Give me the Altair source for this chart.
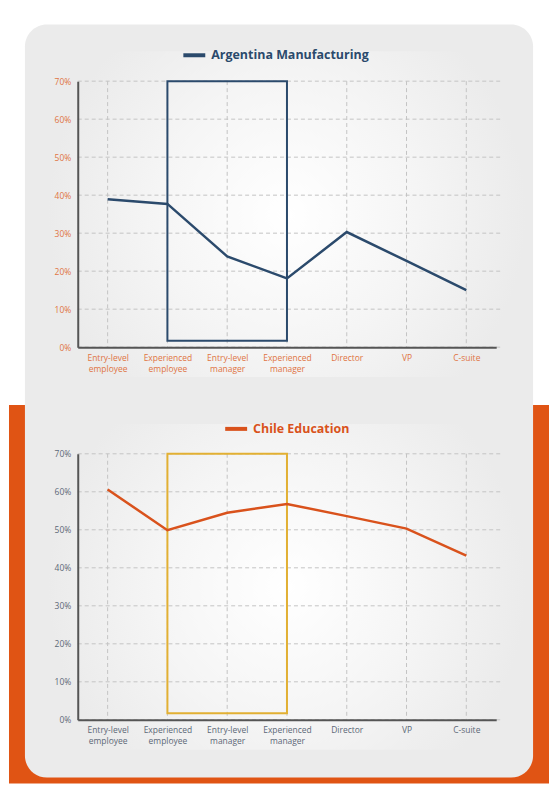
import altair as alt
import pandas as pd

# ---------------- data ----------------
categories = ["Entry-level employee", "Experienced employee", "Entry-level manager",
              "Experienced manager", "Director", "VP", "C-suite"]
argentina = [38.9, 37.7, 23.9, 18.1, 30.3, 22.7, 15.0]
chile = [60.6, 49.9, 54.5, 56.8, 53.6, 50.3, 43.2]
y_ticks = [0, 10, 20, 30, 40, 50, 60, 70]
highlight_start = "Experienced employee"
highlight_end = "Experienced manager"
highlight_low = 1.7
highlight_high = 70

W, H = 420, 267
FONT = "Open Sans"
CARD = "#ebebeb"
ORANGE_BG = "#e05414"
NAVY = "#2b4a6c"
ORANGE = "#d9521c"
GOLD = "#e2b033"
RIGHT = 473   # right edge of canvas in panel coordinates
BOTTOM = 705  # bottom edge of canvas in panel coordinates


def one_row():
    return pd.DataFrame({"k": [0]})


def panel(values, name, line_color, label_color, rect_color, title_x, title_y, backdrop):
    df = pd.DataFrame({"cat": categories, "val": values})
    xscale = alt.Scale(type="point", domain=categories, padding=0.5)
    yscale = alt.Scale(domain=[0, 70], nice=False)
    xaxis = alt.Axis(title=None, labelAngle=0, ticks=False, grid=False,
                     labelColor=label_color, labelFont=FONT, labelFontSize=8.5,
                     labelPadding=6, labelBaseline="top", labelLineHeight=11,
                     labelExpr="split(datum.label, ' ')",
                     domainColor="#555555", domainWidth=2, zindex=1)
    yaxis = alt.Axis(title=None, values=y_ticks, ticks=False, grid=False,
                     labelColor=label_color, labelFont=FONT, labelFontSize=8.5,
                     labelPadding=7, labelExpr="datum.value + '%'",
                     domainColor="#555555", domainWidth=2, zindex=1)

    layers = []
    if backdrop:
        layers.append(
            alt.Chart(one_row()).mark_rect(color="white").encode(
                x=alt.value(-69), x2=alt.value(RIGHT), y=alt.value(-71), y2=alt.value(325))
        )
        layers.append(
            alt.Chart(one_row()).mark_rect(color=ORANGE_BG).encode(
                x=alt.value(-69), x2=alt.value(RIGHT), y=alt.value(325), y2=alt.value(BOTTOM))
        )
        layers.append(
            alt.Chart(one_row()).mark_rect(color=CARD, cornerRadius=22).encode(
                x=alt.value(-53), x2=alt.value(457), y=alt.value(-57), y2=alt.value(699))
        )
    # soft radial glow behind the plot
    layers.append(
        alt.Chart(one_row()).mark_rect(
            fill={"gradient": "radial",
                  "stops": [{"offset": 0, "color": "#ffffff"},
                            {"offset": 0.55, "color": "#f5f5f5"},
                            {"offset": 1, "color": CARD}]}
        ).encode(x=alt.value(-30), x2=alt.value(450), y=alt.value(-30), y2=alt.value(297))
    )
    # horizontal grid
    layers.append(
        alt.Chart(pd.DataFrame({"val": y_ticks})).mark_rule(
            color="#c4c4c4", strokeWidth=1, strokeDash=[4, 3]
        ).encode(y=alt.Y("val:Q", scale=yscale, axis=yaxis), x=alt.value(0), x2=alt.value(427))
    )
    # vertical grid
    layers.append(
        alt.Chart(pd.DataFrame({"cat": categories})).mark_rule(
            color="#c4c4c4", strokeWidth=1, strokeDash=[4, 3]
        ).encode(x=alt.X("cat:N", scale=xscale, sort=categories, axis=xaxis),
                 y=alt.value(0), y2=alt.value(H))
    )
    # highlight box
    hl = pd.DataFrame({"cat": [highlight_start], "b": [highlight_end],
                       "val": [highlight_low], "hi": [highlight_high]})
    layers.append(
        alt.Chart(hl).mark_rect(fillOpacity=0, stroke=rect_color, strokeWidth=2).encode(
            x=alt.X("cat:N", scale=xscale, sort=categories, axis=xaxis), x2="b:N",
            y=alt.Y("val:Q", scale=yscale, axis=yaxis), y2="hi:Q")
    )
    # data line
    layers.append(
        alt.Chart(df).mark_line(color=line_color, strokeWidth=2.5).encode(
            x=alt.X("cat:N", scale=xscale, sort=categories, axis=xaxis),
            y=alt.Y("val:Q", scale=yscale, axis=yaxis),
        )
    )
    # legend-style title
    layers.append(
        alt.Chart(one_row()).mark_rule(color=line_color, strokeWidth=4).encode(
            x=alt.value(title_x), x2=alt.value(title_x + 22), y=alt.value(title_y))
    )
    layers.append(
        alt.Chart(one_row()).mark_text(
            align="left", baseline="middle", font=FONT, fontSize=12.5,
            fontWeight="bold", color=line_color
        ).encode(x=alt.value(title_x + 28), y=alt.value(title_y), text=alt.value(name))
    )
    return alt.layer(*layers).properties(width=W, height=H)


top = panel(argentina, "Argentina Manufacturing", NAVY, "#e07443", NAVY, 106, -26, True)
bottom = panel(chile, "Chile Education", ORANGE, "#5c6877", GOLD, 148, -25, False)

chart = alt.vconcat(top, bottom, spacing=107, bounds="flush").properties(
    padding=0
).configure_view(strokeWidth=0).configure(background="white")

chart.save("out.html", embed_options={"renderer": "svg", "actions": False})
